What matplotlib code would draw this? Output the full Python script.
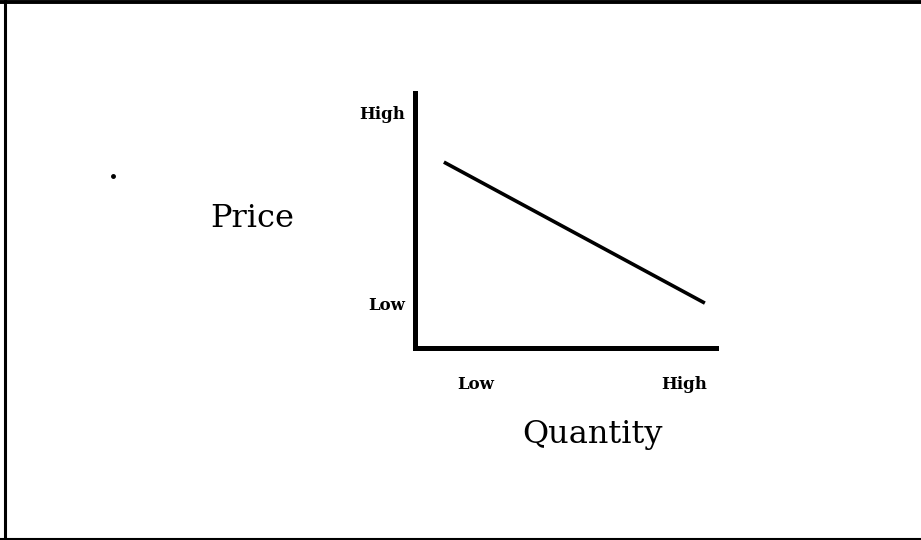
import matplotlib
matplotlib.use("Agg")
import matplotlib.pyplot as plt
from matplotlib.lines import Line2D

# Data (schematic demand curve, axis units 0..10)
quantity = [0.96, 9.63]
price = [7.29, 1.76]
x_tick_pos = [2.03, 8.94]
x_tick_labels = ["Low", "High"]
y_tick_pos = [1.76, 9.22]
y_tick_labels = ["Low", "High"]

W, H = 921, 540
fig = plt.figure(figsize=(W / 100, H / 100), dpi=100)
fig.patch.set_facecolor("white")

left, right, bottom, top = 415, 716, 348, 93
ax = fig.add_axes([left / W, (H - bottom) / H, (right - left) / W, (bottom - top) / H])
ax.set_xlim(0, 10)
ax.set_ylim(0, 10)
ax.plot(quantity, price, color="black", lw=2.6, solid_capstyle="butt")

for s in ["top", "right"]:
    ax.spines[s].set_visible(False)
for s in ["left", "bottom"]:
    ax.spines[s].set_linewidth(3.6)
    ax.spines[s].set_color("black")

tick_font = dict(family="DejaVu Serif", weight="bold", size=12)
ax.set_xticks(x_tick_pos)
ax.set_xticklabels(x_tick_labels, **tick_font)
ax.set_yticks(y_tick_pos)
ax.set_yticklabels(y_tick_labels, **tick_font)
ax.tick_params(axis="both", length=0)
ax.tick_params(axis="x", pad=20)
ax.tick_params(axis="y", pad=7)

label_font = dict(family="DejaVu Serif", size=23, color="black")
fig.text(252 / W, (H - 227) / H, "Price", ha="center", va="baseline", **label_font)
fig.text(592 / W, (H - 443) / H, "Quantity", ha="center", va="baseline", **label_font)

# frame lines (left, top, bottom) and small speck
fig.add_artist(Line2D([4.5 / W, 4.5 / W], [0, 1], transform=fig.transFigure, color="black", lw=2.2))
fig.add_artist(Line2D([0, 1], [1 - 2 / H, 1 - 2 / H], transform=fig.transFigure, color="black", lw=2.8))
fig.add_artist(Line2D([0, 1], [1.5 / H, 1.5 / H], transform=fig.transFigure, color="black", lw=1.5))
fig.add_artist(Line2D([113 / W], [(H - 176) / H], transform=fig.transFigure, marker="o",
                      markersize=2.5, color="black", lw=0))

fig.savefig("out.png", dpi=100, facecolor="white")
